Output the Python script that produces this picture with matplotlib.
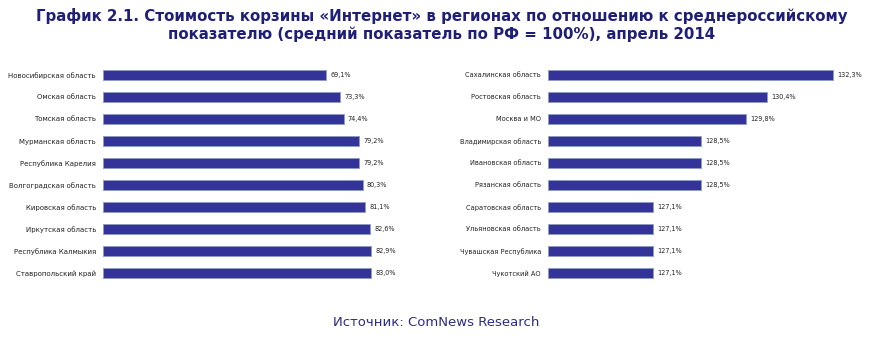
import matplotlib
matplotlib.use("Agg")
import matplotlib.pyplot as plt

left_regions = ["Новосибирская область", "Омская область", "Томская область",
                "Мурманская область", "Республика Карелия", "Волгоградская область",
                "Кировская область", "Иркутская область", "Республика Калмыкия",
                "Ставропольский край"]
left_values = [69.1, 73.3, 74.4, 79.2, 79.2, 80.3, 81.1, 82.6, 82.9, 83.0]

right_regions = ["Сахалинская область", "Ростовская область", "Москва и МО",
                 "Владимирская область", "Ивановская область", "Рязанская область",
                 "Саратовская область", "Ульяновская область", "Чувашская Республика",
                 "Чукотский АО"]
right_values = [132.3, 130.4, 129.8, 128.5, 128.5, 128.5, 127.1, 127.1, 127.1, 127.1]

title = ("График 2.1. Стоимость корзины «Интернет» в регионах по отношению к среднероссийскому\n"
         "показателю (средний показатель по РФ = 100%), апрель 2014")
source = "Источник: ComNews Research"

W, H = 883, 338
fig = plt.figure(figsize=(W / 100, H / 100), dpi=100)

bar_color = "#333399"
edge_color = "#8f9cc4"
label_color = "#222222"

def px_axes(x0, x1, y0, y1):
    return fig.add_axes([x0 / W, 1 - y1 / H, (x1 - x0) / W, (y1 - y0) / H])

def draw(ax, names, vals, xmin, xmax, fs):
    ypos = list(range(len(names)))
    ax.barh(ypos, [v - xmin for v in vals], left=xmin, height=0.42,
            color=bar_color, edgecolor=edge_color, linewidth=0.6)
    ax.set_xlim(xmin, xmax)
    ax.set_ylim(len(names) - 0.5, -0.5)
    ax.set_yticks(ypos)
    ax.set_yticklabels(names, fontsize=fs, color=label_color)
    ax.tick_params(axis="y", length=0, pad=5)
    ax.set_xticks([])
    for s in ax.spines.values():
        s.set_visible(False)
    for y, v in zip(ypos, vals):
        ax.text(v + (xmax - xmin) * 0.013, y, f"{v:.1f}%".replace(".", ","),
                va="center", ha="left", fontsize=4.7, color=label_color)

# left panel: zero at x=103 px, 3.233 px per unit
axL = px_axes(103, 430, 64, 284)
draw(axL, left_regions, left_values, 0, (430 - 103) / 3.233, 5.0)

# right panel: 124.07 at x=548 px, 34.6 px per unit
axR = px_axes(548, 876, 64, 284)
draw(axR, right_regions, right_values, 124.07, 124.07 + (876 - 548) / 34.6, 4.8)

fig.text(0.5, 1 - 25 / H, title, ha="center", va="center", fontsize=10.8,
         fontweight="bold", color="#1f1f78", linespacing=1.2,
         family=["DejaVu Sans"])
fig.text(436 / W, 1 - 323 / H, source, ha="center", va="center", fontsize=9.5,
         color="#2b2b8c", family=["DejaVu Sans"])

fig.savefig("out.png", dpi=100)
